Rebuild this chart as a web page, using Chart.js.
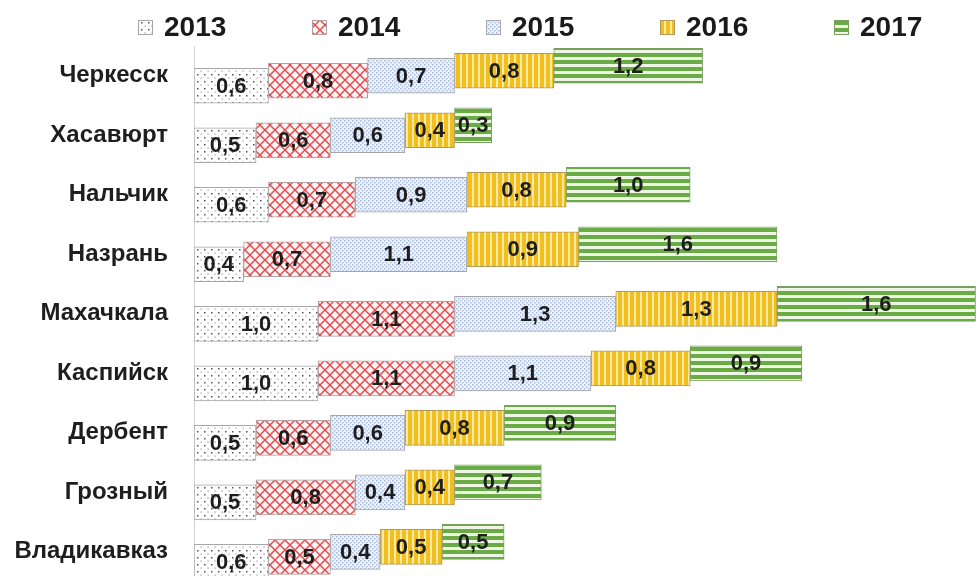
<!DOCTYPE html>
<html>
<head>
<meta charset="utf-8">
<script src="https://cdn.jsdelivr.net/npm/chart.js@4/dist/chart.umd.min.js"></script>
<style>
  html, body { margin: 0; padding: 0; background: #fff; overflow: hidden; }
  canvas { display: block; }
</style>
</head>
<body>
<!-- taller than the window on purpose: the last row is cut off at the bottom like in the source -->
<canvas id="chart" width="978" height="622"></canvas>
<script>
const categories = ["Черкесск", "Хасавюрт", "Нальчик", "Назрань", "Махачкала", "Каспийск", "Дербент", "Грозный", "Владикавказ"];
const years = ["2013", "2014", "2015", "2016", "2017"];
const v2013 = [0.6, 0.5, 0.6, 0.4, 1.0, 1.0, 0.5, 0.5, 0.6];
const v2014 = [0.8, 0.6, 0.7, 0.7, 1.1, 1.1, 0.6, 0.8, 0.5];
const v2015 = [0.7, 0.6, 0.9, 1.1, 1.3, 1.1, 0.6, 0.4, 0.4];
const v2016 = [0.8, 0.4, 0.8, 0.9, 1.3, 0.8, 0.8, 0.4, 0.5];
const v2017 = [1.2, 0.3, 1.0, 1.6, 1.6, 0.9, 0.9, 0.7, 0.5];
const series = [v2013, v2014, v2015, v2016, v2017];

const FONT = "'Liberation Sans', Arial, sans-serif";
const STEP = 5; // vertical shift between series, px

// pattern tiles
function tile(w, h, draw) {
  const c = document.createElement("canvas");
  c.width = w; c.height = h;
  const g = c.getContext("2d");
  draw(g);
  return document.getElementById("chart").getContext("2d").createPattern(c, "repeat");
}

const patDots = tile(7, 7, g => {
  g.fillStyle = "#fff"; g.fillRect(0, 0, 7, 7);
  g.fillStyle = "#555";
  g.fillRect(1, 1, 1.5, 1.5);
  g.fillStyle = "#999";
  g.fillRect(4.5, 4.5, 1.2, 1.2);
});
const patCross = tile(10, 10, g => {
  g.fillStyle = "#fff4f4"; g.fillRect(0, 0, 10, 10);
  g.strokeStyle = "#e2474c"; g.lineWidth = 1.4;
  g.beginPath();
  g.moveTo(0, 0); g.lineTo(10, 10);
  g.moveTo(10, 0); g.lineTo(0, 10);
  g.stroke();
});
const patBlue = tile(4, 4, g => {
  g.fillStyle = "#eef2fa"; g.fillRect(0, 0, 4, 4);
  g.fillStyle = "#a9bbdc";
  g.fillRect(0, 0, 1.5, 1.5);
  g.fillRect(2, 2, 1.5, 1.5);
});
const patVert = tile(6, 6, g => {
  g.fillStyle = "#fbeaa6"; g.fillRect(0, 0, 6, 6);
  g.fillStyle = "#f2c01e"; g.fillRect(0, 0, 4, 6);
});
const patHorz = tile(7, 7, g => {
  g.fillStyle = "#eef6e6"; g.fillRect(0, 0, 7, 7);
  g.fillStyle = "#6aab45"; g.fillRect(0, 0, 7, 4);
});

const fills = [patDots, patCross, patBlue, patVert, patHorz];
const borders = ["#a6a6a6", "#b4a0a0", "#a6a6a6", "#b09a5a", "#7aa060"];

function shift(i) { return (2 - i) * STEP; }

const shiftPlugin = {
  id: "shift",
  beforeDatasetDraw(chart, args) {
    chart.ctx.save();
    chart.ctx.translate(0, shift(args.index));
  },
  afterDatasetDraw(chart) {
    chart.ctx.restore();
  }
};

const labelPlugin = {
  id: "valueLabels",
  afterDatasetsDraw(chart) {
    const ctx = chart.ctx;
    const a = chart.chartArea;
    ctx.save();
    ctx.beginPath();
    ctx.rect(a.left, a.top - 20, a.right - a.left, a.bottom - a.top + 40);
    ctx.clip();
    ctx.font = "bold 22px " + FONT;
    ctx.fillStyle = "#1e1e1e";
    ctx.textAlign = "center";
    ctx.textBaseline = "middle";
    chart.data.datasets.forEach((ds, i) => {
      chart.getDatasetMeta(i).data.forEach((bar, j) => {
        const txt = ds.data[j].toFixed(1).replace(".", ",");
        ctx.fillText(txt, (bar.x + bar.base) / 2, bar.y + shift(i) + 1);
      });
    });
    ctx.restore();
  }
};

const legendPlugin = {
  id: "ownLegend",
  afterDraw(chart) {
    const ctx = chart.ctx;
    ctx.save();
    ctx.font = "bold 28px " + FONT;
    ctx.textBaseline = "middle";
    years.forEach((y, i) => {
      const x = 138 + i * 174;
      ctx.fillStyle = fills[i];
      ctx.fillRect(x, 20, 15, 15);
      ctx.strokeStyle = borders[i];
      ctx.lineWidth = 1;
      ctx.strokeRect(x + 0.5, 20.5, 14, 14);
      ctx.fillStyle = "#1a1a1a";
      ctx.fillText(y, x + 26, 28);
    });
    ctx.restore();
  }
};

new Chart(document.getElementById("chart"), {
  type: "bar",
  data: {
    labels: categories,
    datasets: years.map((y, i) => ({
      label: y,
      data: series[i],
      backgroundColor: fills[i],
      borderColor: borders[i],
      borderWidth: 1,
      borderSkipped: false,
      barThickness: 35
    }))
  },
  options: {
    indexAxis: "y",
    responsive: false,
    animation: false,
    layout: { padding: { top: 46, bottom: 8, left: 0, right: 0 } },
    plugins: {
      legend: { display: false },
      tooltip: { enabled: false }
    },
    scales: {
      x: {
        stacked: true,
        display: false,
        min: 0,
        max: 6.32
      },
      y: {
        stacked: true,
        grid: { display: false, drawTicks: false },
        border: { display: true, color: "#d4d4d4", width: 1 },
        ticks: {
          padding: 26,
          color: "#1e1e1e",
          font: { family: FONT, size: 24, weight: "bold" }
        },
        afterFit(scale) { scale.width = 194; }
      }
    }
  },
  plugins: [shiftPlugin, labelPlugin, legendPlugin]
});
</script>
</body>
</html>
